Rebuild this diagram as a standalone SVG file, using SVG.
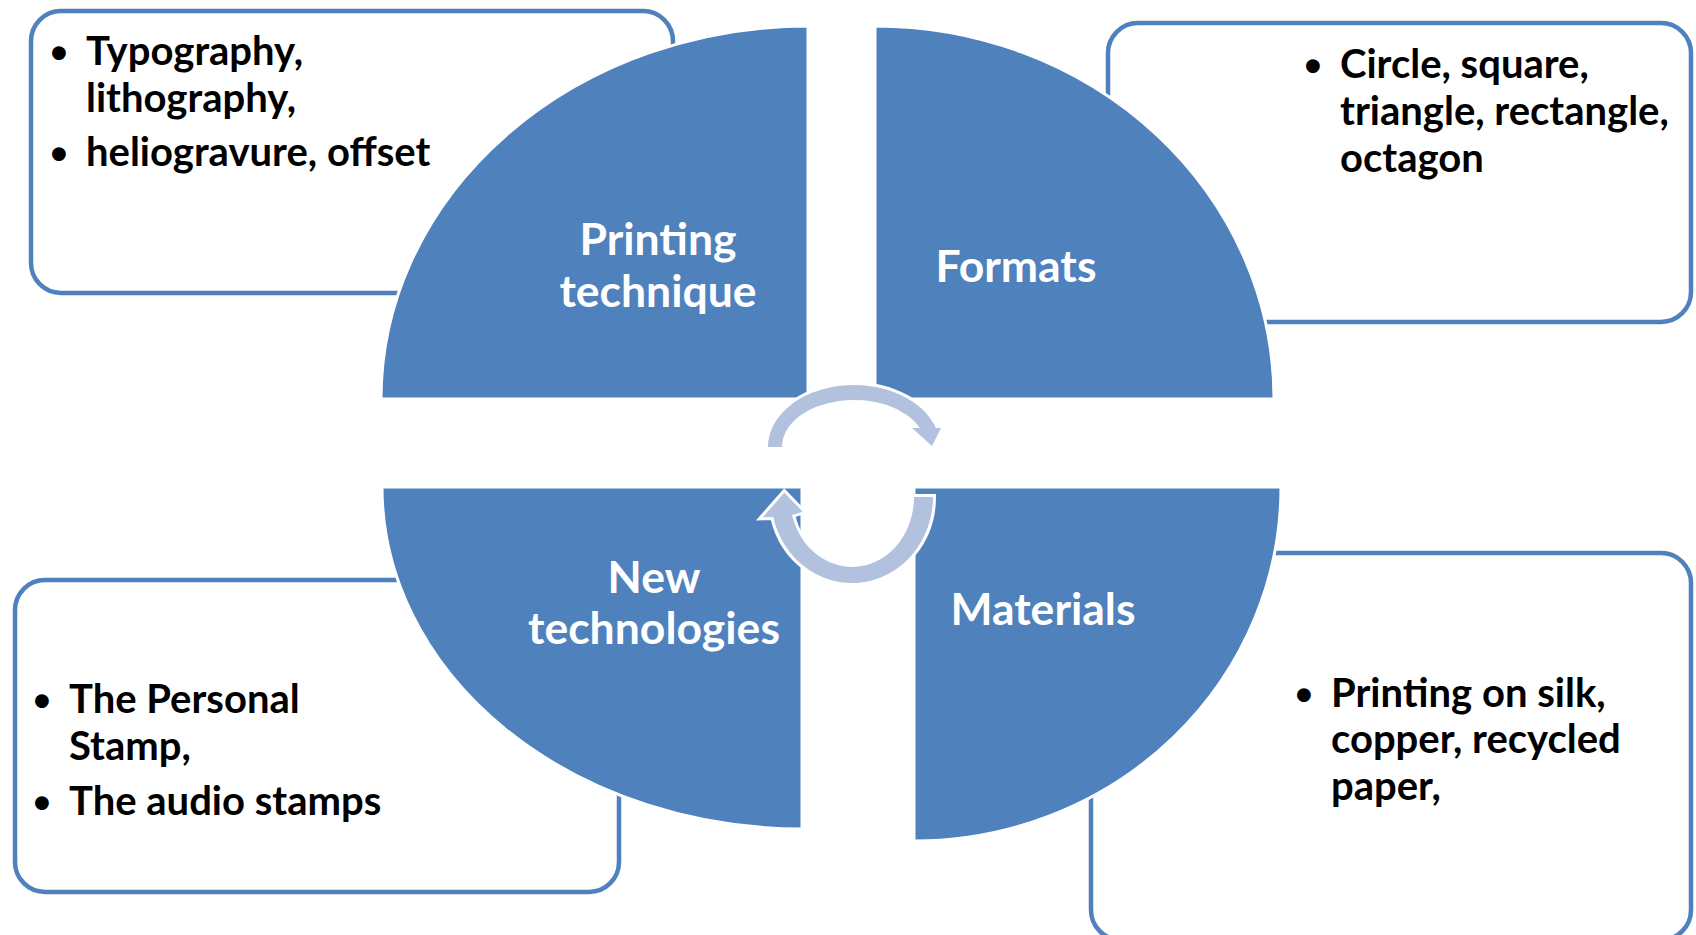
<svg xmlns="http://www.w3.org/2000/svg" width="1696" height="935" viewBox="0 0 1696 935">
<style>
.box{fill:#FFFFFF;stroke:#4F81BD;stroke-width:4.5}
.quad{fill:#4F81BD;stroke:#FFFFFF;stroke-width:3}
.arr{fill:#B2C2DE;stroke:#FFFFFF;stroke-width:6;stroke-linejoin:miter;paint-order:stroke fill}
.bt{font-family:Lato,"Liberation Sans",sans-serif;font-weight:bold;font-size:40px;fill:#000000}
.bul{font-family:"Liberation Sans",sans-serif;font-weight:bold;font-size:48px;fill:#000000;text-anchor:middle}
.lab{font-family:Lato,"Liberation Sans",sans-serif;font-weight:bold;font-size:44.5px;fill:#FFFFFF;text-anchor:middle}
</style>
<rect width="1696" height="935" fill="#FFFFFF"/>
<g id="box-printing">
<rect class="box" x="31" y="11" width="642" height="282" rx="30"/>
<text class="bul" x="59" y="69">•</text>
<text class="bt" x="86" y="65">Typography,</text>
<text class="bt" x="86" y="112">lithography,</text>
<text class="bul" x="59" y="170">•</text>
<text class="bt" x="86" y="166">heliogravure, offset</text>
</g>
<g id="box-formats">
<rect class="box" x="1108" y="23" width="583" height="299" rx="30"/>
<text class="bul" x="1313" y="82">•</text>
<text class="bt" x="1340" y="78">Circle, square,</text>
<text class="bt" x="1340" y="125">triangle, rectangle,</text>
<text class="bt" x="1340" y="172">octagon</text>
</g>
<g id="box-new">
<rect class="box" x="15" y="580" width="604" height="312" rx="30"/>
<text class="bul" x="42" y="717">•</text>
<text class="bt" x="69" y="713">The Personal</text>
<text class="bt" x="69" y="760">Stamp,</text>
<text class="bul" x="42" y="819">•</text>
<text class="bt" x="69" y="815">The audio stamps</text>
</g>
<g id="box-materials">
<rect class="box" x="1091" y="553" width="600" height="387" rx="30"/>
<text class="bul" x="1304" y="711">•</text>
<text class="bt" x="1331" y="707">Printing on silk,</text>
<text class="bt" x="1331" y="753">copper, recycled</text>
<text class="bt" x="1331" y="800">paper,</text>
</g>
<g id="node-printing">
<path class="quad" d="M808,399 L381,399 A427,373 0 0 1 808,26 Z"/>
<text class="lab" x="658" y="255">Printing</text>
<text class="lab" x="658" y="307">technique</text>
</g>
<g id="node-formats">
<path class="quad" d="M875,399 L875,26 A399,373 0 0 1 1274,399 Z"/>
<text class="lab" x="1016" y="282">Formats</text>
</g>
<g id="node-new">
<path class="quad" d="M802,487 L802,829 A420,342 0 0 1 382,487 Z"/>
<text class="lab" x="654" y="593">New</text>
<text class="lab" x="654" y="644">technologies</text>
</g>
<g id="node-materials">
<path class="quad" d="M914,487 L1281,487 A367,354 0 0 1 914,841 Z"/>
<text class="lab" x="1043" y="625">Materials</text>
</g>
<g id="connectors">
<path class="arr" d="M768,447 A86,62 0 0 1 935.9,428 L941,428 L932,446 L912,428 L919.9,428 A72,47 0 0 0 782,447 Z"/>
<path class="arr" d="M933,497 A81,86 0 0 1 773.2,517 L762.7,517.3 L784.3,492.7 L802.7,511.7 L792.1,515 A62,70 0 0 0 914,497 Z"/>
</g>
</svg>
